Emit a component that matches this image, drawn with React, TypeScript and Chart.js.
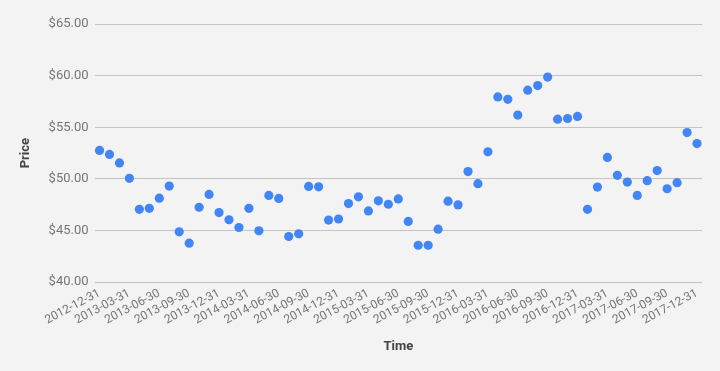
import React, { useEffect, useRef } from "react";
import { Chart, registerables } from "chart.js";

Chart.register(...registerables);

const dates: string[] = [
  "2012-12-31",
  "2013-01-31", "2013-02-28", "2013-03-31", "2013-04-30", "2013-05-31", "2013-06-30",
  "2013-07-31", "2013-08-31", "2013-09-30", "2013-10-31", "2013-11-30", "2013-12-31",
  "2014-01-31", "2014-02-28", "2014-03-31", "2014-04-30", "2014-05-31", "2014-06-30",
  "2014-07-31", "2014-08-31", "2014-09-30", "2014-10-31", "2014-11-30", "2014-12-31",
  "2015-01-31", "2015-02-28", "2015-03-31", "2015-04-30", "2015-05-31", "2015-06-30",
  "2015-07-31", "2015-08-31", "2015-09-30", "2015-10-31", "2015-11-30", "2015-12-31",
  "2016-01-31", "2016-02-29", "2016-03-31", "2016-04-30", "2016-05-31", "2016-06-30",
  "2016-07-31", "2016-08-31", "2016-09-30", "2016-10-31", "2016-11-30", "2016-12-31",
  "2017-01-31", "2017-02-28", "2017-03-31", "2017-04-30", "2017-05-31", "2017-06-30",
  "2017-07-31", "2017-08-31", "2017-09-30", "2017-10-31", "2017-11-30", "2017-12-31",
];

const prices: number[] = [
  52.76,
  52.37, 51.55, 50.06, 47.06, 47.16, 48.14,
  49.31, 44.88, 43.78, 47.26, 48.5, 46.74,
  46.05, 45.3, 47.16, 44.98, 48.4, 48.11,
  44.43, 44.69, 49.28, 49.24, 46.02, 46.12,
  47.62, 48.27, 46.9, 47.88, 47.55, 48.07,
  45.89, 43.58, 43.58, 45.14, 47.85, 47.49,
  50.71, 49.54, 52.63, 57.94, 57.71, 56.18,
  58.59, 59.04, 59.86, 55.79, 55.85, 56.05,
  47.06, 49.21, 52.08, 50.35, 49.7, 48.4,
  49.83, 50.81, 49.05, 49.64, 54.49, 53.42,
];

const yTicks: number[] = [40, 45, 50, 55, 60, 65];

export default function App() {
  const ref = useRef<HTMLCanvasElement | null>(null);
  useEffect(() => {
    document.body.style.margin = "0";
    document.body.style.background = "#f3f3f3";
    const ctx = ref.current!;
    const bgPlugin = {
      id: "bg",
      beforeDraw(chart: any) {
        const c = chart.ctx;
        c.save();
        c.fillStyle = "#f3f3f3";
        c.fillRect(0, 0, chart.width, chart.height);
        c.restore();
      },
    };
    const chart = new Chart(ctx, {
      type: "line",
      data: {
        labels: dates,
        datasets: [
          {
            label: "Price",
            data: prices,
            showLine: false,
            pointRadius: 4.6,
            pointHoverRadius: 4.6,
            pointBackgroundColor: "#4285f4",
            pointBorderWidth: 0,
            borderColor: "#4285f4",
            backgroundColor: "#4285f4",
          },
        ],
      },
      options: {
        animation: false,
        responsive: false,
        maintainAspectRatio: false,
        layout: { padding: { top: 24, right: 18, bottom: 16, left: 18 } },
        plugins: { legend: { display: false }, tooltip: { enabled: false } },
        scales: {
          x: {
            type: "category",
            offset: true,
            grid: { display: false, drawTicks: false },
            border: { display: false },
            ticks: {
              autoSkip: false,
              minRotation: 28,
              maxRotation: 28,
              color: "#757575",
              padding: 4,
              font: { family: "Roboto", size: 12 },
              callback: (_v: any, i: number) => (i % 3 === 0 ? dates[i] : ""),
            },
            title: {
              display: true,
              text: "Time",
              color: "#444444",
              font: { family: "Roboto", size: 13, weight: "bold" },
              padding: { top: 8, bottom: 0 },
            },
          },
          y: {
            min: 40,
            max: 65,
            afterBuildTicks: (axis: any) => {
              axis.ticks = yTicks.map((v) => ({ value: v }));
            },
            grid: { color: "#c4c4c4", drawTicks: false, lineWidth: 1 },
            border: { display: false },
            ticks: {
              color: "#757575",
              padding: 6,
              font: { family: "Roboto", size: 13 },
              callback: (v: any) => "$" + Number(v).toFixed(2),
            },
            title: {
              display: true,
              text: "Price",
              color: "#444444",
              font: { family: "Roboto", size: 13, weight: "bold" },
              padding: { top: 0, bottom: 9 },
            },
          },
        },
      },
      plugins: [bgPlugin],
    });
    return () => chart.destroy();
  }, []);
  return (
    <div style={{ width: 720, height: 371, background: "#f3f3f3" }}>
      <canvas ref={ref} width={720} height={371} style={{ display: "block" }} />
    </div>
  );
}
